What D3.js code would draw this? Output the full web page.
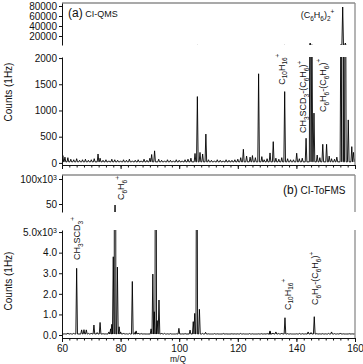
<!DOCTYPE html>
<html>
<head>
<meta charset="utf-8">
<script src="https://cdn.jsdelivr.net/npm/d3@7"></script>
<style>
  body { margin: 0; background: #fff; }
  svg { display: block; }
  text { font-family: "Liberation Sans", Arial, sans-serif; fill: #111; }
</style>
</head>
<body>
<svg id="chart" width="363" height="364"></svg>
<script>
// m/Q of the first entry in the noise arrays
const massStart = 60;

// (a) CI-QMS: small baseline counts at each integer m/Q (60..160)
const noiseA = [
  130,110,100,70,60,80,50,60,70,50,
  60,80,0,90,50,60,40,70,60,50,
  40,60,50,70,40,50,60,40,70,50,
  90,0,0,70,50,40,60,50,40,60,
  50,40,60,70,90,0,0,0,0,0,
  60,50,40,60,50,40,60,50,50,60,
  70,100,0,0,0,0,100,0,0,60,
  80,0,0,90,70,100,0,80,60,60,
  0,80,90,0,0,0,0,0,100,0,
  0,0,80,70,0,0,0,0,0,0,
  80
];
// (a) peaks: [m/Q, counts]
const peaksA = [
  [60.3,140],[72.3,170],[90.6,160],[91.6,230],[105.4,180],[106.2,1265],[107.1,200],
  [108.0,170],[109.1,550],[121.9,260],[123.0,130],[124.2,110],[125.0,140],[127.1,1700],
  [128.2,120],[131.0,190],[132.1,405],[136.0,1360],[140.1,185],[143.3,470],[144.7,6000],
  [145.3,2500],[146.0,950],[147.1,150],[149.0,355],[150.3,355],[151.2,130],[153.8,110],
  [155.2,3000],[155.8,78000],[156.7,6000],[157.7,820],[158.9,310],[159.5,200]
];

// (b) CI-ToFMS
const noiseB = [
  80,60,100,70,90,0,0,0,0,80,
  100,0,120,0,80,60,150,0,0,0,
  150,100,60,80,0,150,100,80,60,50,
  0,0,0,0,100,80,60,70,50,60,
  0,60,80,0,0,0,0,0,80,130,
  60,50,70,60,50,80,60,50,70,60,
  60,80,60,50,70,60,50,60,70,60,
  80,160,100,150,80,100,0,70,60,50,
  60,80,70,60,150,120,0,80,60,70,
  60,80,150,70,60,100,60,50,70,60,
  60
];
const peaksB = [
  [65.0,3240],[66.7,250],[67.5,260],[68.3,250],[70.9,485],[73.0,610],[76.6,300],[77.0,520],
  [77.5,3800],[78.1,48000],[78.9,3300],[79.5,400],[84.0,2600],[85.3,200],[90.4,300],
  [91.0,2960],[91.5,1130],[92.0,20000],[92.5,700],[93.1,1700],[99.9,325],[103.7,240],
  [104.8,650],[105.3,1050],[106.0,15000],[106.9,1250],[131.0,200],[136.1,840],[146.1,890]
];

const baseA = 20, baseB = 50;

// ticks
const xTicks = [60, 80, 100, 120, 140, 160];
const ticksATop = [20000, 40000, 60000, 80000];
const ticksA = [0, 500, 1000, 1500, 2000];
const ticksBTop = [50000, 100000];
const ticksB = [0, 1000, 2000, 3000, 4000, 5000];

// peak annotations: [m/Q, counts level of the label foot, formula]
const annotA = [
  [136.0, 1490, "C_{10}H_{16}^{+}"],
  [143.3, 570, "CH_{3}SCD_{3}-(C_{6}H_{6})^{+}"],
  [150.1, 970, "C_{6}H_{6}-(C_{6}H_{6})^{+}"]
];
const annotATop = [[147.2, 56000, "(C_{6}H_{6})_{2}^{+}"]];
const annotB = [
  [66.1, 3640, "CH_{3}SCD_{3}^{+}"],
  [138.0, 1215, "C_{10}H_{16}^{+}"],
  [147.5, 1458, "C_{6}H_{6}-(C_{6}H_{6})^{+}"]
];
const annotBTop = [[81.3, 58000, "C_{6}H_{6}^{+}"]];

const svg = d3.select("#chart");
const left = 62, right = 355;
const x = d3.scaleLinear().domain([60, 160]).range([left, right]);

const yATop = d3.scaleLinear().domain([2000, 86000]).range([45, 3]);
const yA = d3.scaleLinear().domain([-40, 2020]).range([165, 57]);
const yBTop = d3.scaleLinear().domain([34000, 108000]).range([212, 175]);
const yB = d3.scaleLinear().domain([-120, 5100]).range([337.5, 230]);

const hw = 0.28; // half width of a drawn peak in m/Q

function tracePoints(noise, peaks, base) {
  const all = noise.map((v, i) => [massStart + i, v])
    .filter(d => d[1] > 0)
    .concat(peaks)
    .sort((a, b) => a[0] - b[0]);
  const pts = [[60, base]];
  all.forEach(([m, v]) => { pts.push([m - hw, base], [m, v], [m + hw, base]); });
  pts.push([160, base]);
  return pts;
}

const defs = svg.append("defs");
let clipN = 0;
function drawTrace(pts, y) {
  const id = "clip" + (clipN++);
  const r = y.range();
  defs.append("clipPath").attr("id", id).append("rect")
    .attr("x", left).attr("y", Math.min(...r))
    .attr("width", right - left).attr("height", Math.abs(r[0] - r[1]));
  const line = d3.line().x(d => x(d[0])).y(d => y(d[1]));
  svg.append("path")
    .attr("clip-path", `url(#${id})`)
    .attr("d", line(pts))
    .attr("fill", "none")
    .attr("stroke", "#000")
    .attr("stroke-width", 0.9)
    .attr("stroke-linejoin", "bevel");
}

function styleAxis(g) {
  g.selectAll("text").attr("font-size", 10).attr("font-family", '"Liberation Sans", Arial, sans-serif').attr("fill", "#111");
  g.selectAll("path,line").attr("stroke", "#111");
}

function leftAxis(y, ticks, fmt) {
  const g = svg.append("g")
    .attr("transform", `translate(${left},0)`)
    .call(d3.axisLeft(y).tickValues(ticks).tickSize(3).tickPadding(2).tickSizeOuter(0).tickFormat(fmt));
  styleAxis(g);
  return g;
}

function bottomAxis(yPos, labels) {
  const gMinor = svg.append("g")
    .attr("transform", `translate(0,${yPos})`)
    .call(d3.axisBottom(x).tickValues(d3.range(60, 160.1, 2.5)).tickSize(2.5).tickFormat("").tickSizeOuter(0));
  styleAxis(gMinor);
  const g = svg.append("g")
    .attr("transform", `translate(0,${yPos})`)
    .call(d3.axisBottom(x).tickValues(xTicks).tickSize(4).tickPadding(2.5).tickSizeOuter(0)
      .tickFormat(labels ? d3.format("d") : ""));
  styleAxis(g);
}

function formula(sel, str, size) {
  const toks = str.match(/(_\{[^}]*\}|\^\{[^}]*\}|[^_^]+)/g);
  let shift = 0;
  toks.forEach(tok => {
    let dy = 0, fs = size, t = tok;
    if (tok[0] === "_") { t = tok.slice(2, -1); fs = size * 0.72; dy = size * 0.3; }
    else if (tok[0] === "^") { t = tok.slice(2, -1); fs = size * 0.72; dy = -size * 0.5; }
    sel.append("tspan").attr("dy", dy - shift).attr("font-size", fs).text(t);
    shift = dy;
  });
}

function annotate(list, y, rotated) {
  list.forEach(([m, v, f]) => {
    const t = svg.append("text")
      .attr("transform", rotated ? `translate(${x(m)},${y(v)}) rotate(-90)` : `translate(${x(m)},${y(v)})`)
      .attr("text-anchor", rotated ? "start" : "middle")
      .attr("font-size", 9);
    formula(t, f, 9);
  });
}

function frameLine(x1, y1, x2, y2) {
  svg.append("line").attr("x1", x1).attr("y1", y1).attr("x2", x2).attr("y2", y2)
    .attr("stroke", "#8c8c8c").attr("stroke-width", 1.3);
}

// ---- panel (a)
const ptsA = tracePoints(noiseA, peaksA, baseA);
drawTrace(ptsA, yATop);
drawTrace(ptsA, yA);
frameLine(left, 3, right, 3);
frameLine(right, 3, right, 165);
leftAxis(yATop, ticksATop, d3.format("d"));
leftAxis(yA, ticksA, d3.format("d"));
bottomAxis(165, false);
annotate(annotA, yA, true);
annotate(annotATop, yATop, false);

// ---- panel (b)
const ptsB = tracePoints(noiseB, peaksB, baseB);
drawTrace(ptsB, yBTop);
drawTrace(ptsB, yB);
frameLine(left, 175, right, 175);
frameLine(right, 175, right, 212);
frameLine(right, 230, right, 338);
const gbt = leftAxis(yBTop, ticksBTop, d => d === 100000 ? "100x10" : String(d / 1000));
gbt.selectAll(".tick text").filter(d => d === 100000)
  .append("tspan").attr("dy", "-0.45em").attr("font-size", 7).text("3");
const gb = leftAxis(yB, ticksB, d => d3.format(".1f")(d / 1000) + (d === 5000 ? "x10" : ""));
gb.selectAll(".tick text").filter(d => d === 5000)
  .append("tspan").attr("dy", "-0.45em").attr("font-size", 7).text("3");
bottomAxis(338, true);
annotate(annotB, yB, true);
annotate(annotBTop, yBTop, true);

// panel titles
const ta = svg.append("text").attr("x", 68).attr("y", 17).attr("font-size", 12).text("(a)");
ta.append("tspan").attr("font-size", 9).text(" CI-QMS");
const tb = svg.append("text").attr("x", 283).attr("y", 194).attr("font-size", 12).text("(b)");
tb.append("tspan").attr("font-size", 10).text(" CI-ToFMS");

// axis titles
[92, 281].forEach(cy => {
  svg.append("text")
    .attr("transform", `translate(12,${cy}) rotate(-90)`)
    .attr("text-anchor", "middle")
    .attr("font-size", 10)
    .text("Counts (1Hz)");
});
svg.append("text").attr("x", 178).attr("y", 362).attr("text-anchor", "middle")
  .attr("font-size", 8.5).text("m/Q");
</script>
</body>
</html>
